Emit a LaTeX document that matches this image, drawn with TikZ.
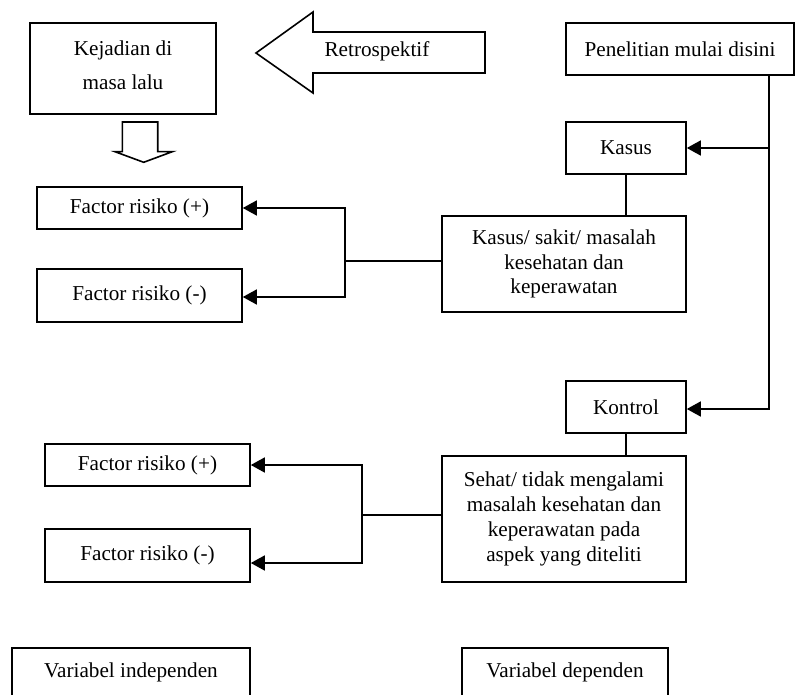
\documentclass[tikz,border=0pt]{standalone}
\usepackage{fontspec}
\setmainfont{Liberation Serif}
\usetikzlibrary{arrows.meta}
\begin{document}
\begin{tikzpicture}[x=1pt,y=-1pt,
  box/.style={draw,line width=1.6pt,align=center,inner sep=0pt,font=\fontsize{21.2}{24.8}\selectfont},
  conn/.style={line width=1.6pt},
  arr/.style={conn,-{Triangle[length=14pt,width=15pt]}},
  bigarrow/.style={draw,line width=1.6pt,fill=white,line join=miter}]
\clip (0,0) rectangle (795,695);
\fill[white] (0,0) rectangle (795,695);
% boxes
\node[box,minimum width=186pt,minimum height=91pt,text depth=7pt,font=\fontsize{21.2}{34}\selectfont] (kej) at (123,68.5) {Kejadian di\\masa lalu};
\node[box,minimum width=228pt,minimum height=52pt] (pen) at (680,49) {Penelitian mulai disini};
\node[box,minimum width=120pt,minimum height=52pt] (kasus) at (626,148) {Kasus};
\node[box,minimum width=244pt,minimum height=96pt] (kkb) at (564,264) {Kasus/ sakit/ masalah\\kesehatan dan\\keperawatan};
\node[box,minimum width=205pt,minimum height=42pt] (fp1) at (139.5,208) {Factor risiko (+)};
\node[box,minimum width=205pt,minimum height=53pt] (fm1) at (139.5,295.5) {Factor risiko (-)};
\node[box,minimum width=120pt,minimum height=52pt] (kontrol) at (626,407) {Kontrol};
\node[box,minimum width=244pt,minimum height=126pt] (sehat) at (564,519) {Sehat/ tidak mengalami\\masalah kesehatan dan\\keperawatan pada\\aspek yang diteliti};
\node[box,minimum width=205pt,minimum height=42pt] (fp2) at (147.5,465) {Factor risiko (+)};
\node[box,minimum width=205pt,minimum height=53pt] (fm2) at (147.5,555.5) {Factor risiko (-)};
\node[box,minimum width=238pt,minimum height=49pt] (vi) at (131,672.5) {Variabel independen};
\node[box,minimum width=206pt,minimum height=49pt] (vd) at (565,672.5) {Variabel dependen};
% block arrows
\draw[bigarrow] (256,53) -- (313,12) -- (313,32) -- (485,32) -- (485,73) -- (313,73) -- (313,93) -- cycle;
\node[font=\fontsize{21.2}{24.8}\selectfont] (retro) at (377,51) {Retrospektif};
\draw[bigarrow] (122.3,122) -- (157.7,122) -- (157.7,151.7) -- (172.3,151.7) -- (143.7,162.3) -- (115,151.7) -- (122.3,151.7) -- cycle;
% connectors
\coordinate (rail) at (769,0);
\draw[arr] (pen.south -| rail) |- (kasus.east);
\draw[arr] (pen.south -| rail) |- ([yshift=-2pt]kontrol.east);
\draw[conn] (kasus.south) -- (kasus.south |- kkb.north);
\draw[conn] (kontrol.south) -- (kontrol.south |- sehat.north);
\draw[conn] ([yshift=3pt]kkb.west) -- ++(-96,0) coordinate (j1);
\draw[arr] (j1) |- (fp1.east);
\draw[arr] (j1) |- ([yshift=-1.5pt]fm1.east);
\draw[conn] ([yshift=4pt]sehat.west) -- ++(-79,0) coordinate (j2);
\draw[arr] (j2) |- (fp2.east);
\draw[arr] (j2) |- ([yshift=-7.5pt]fm2.east);
\end{tikzpicture}
\end{document}
